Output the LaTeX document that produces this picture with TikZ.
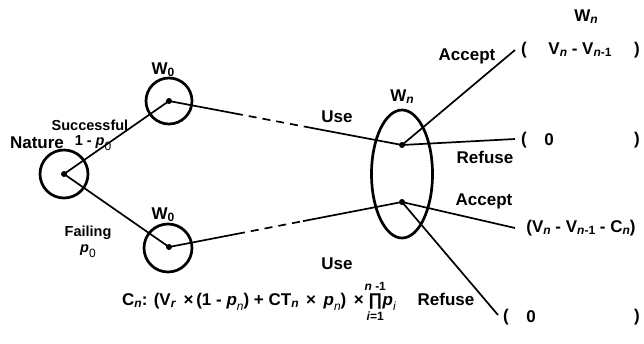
\documentclass[tikz,border=0pt]{standalone}
\usepackage{fontspec}
\setmainfont{Liberation Sans}
\usetikzlibrary{calc,shapes.geometric}
\newcommand{\lsub}[1]{\raisebox{-0.12em}{\fontsize{12}{12}\selectfont #1}}
\newcommand{\psub}[1]{\raisebox{-0.3em}{\fontsize{12}{12}\selectfont\mdseries #1}}
\begin{document}
\begin{tikzpicture}[x=1pt,y=-1pt,
  font=\bfseries\fontsize{17}{19}\selectfont,
  ring/.style={circle,draw,line width=2.7pt,inner sep=0pt,minimum size=#1},
  dotnode/.style={circle,fill,inner sep=0pt,minimum size=6pt},
  edge/.style={line width=1.7pt},
  dashedge/.style={line width=1.7pt,dash pattern=on 8pt off 6pt},
  small/.style={font=\bfseries\fontsize{14.5}{16}\selectfont, inner sep=0pt},
  lbl/.style={inner sep=0pt},
]
\useasboundingbox (0,0) rectangle (644,343);

% circles
\node[ring=48pt] (natc) at (64,174) {};
\node[ring=46pt] (u0c) at (169,101) {};
\node[ring=48pt] (l0c) at (168,248) {};
\node[ellipse,draw,line width=2.7pt,minimum width=61pt,minimum height=128pt,inner sep=0pt] (E) at (402,174) {};

% dots
\node[dotnode] (nd) at (64,174) {};
\node[dotnode] (ud) at (169,101) {};
\node[dotnode] (ld) at (169,247) {};
\node[dotnode] (e1) at (402,145) {};
\node[dotnode] (e2) at (402,202) {};

% end points
\coordinate (a1) at (515,50);
\coordinate (r1) at (515,139);
\coordinate (a2) at (515,228);
\coordinate (r2) at (498,315);

% dashed breaks
\coordinate (ua) at ($(ud.center)!0.283!(e1.center)$);
\coordinate (ub) at ($(ud.center)!0.592!(e1.center)$);
\coordinate (la) at ($(ld.center)!0.292!(e2.center)$);
\coordinate (lb) at ($(ld.center)!0.575!(e2.center)$);

% connectors
\draw[edge] (nd.center) -- (ud.center);
\draw[edge] (nd.center) -- (ld.center);
\draw[edge] (ud.center) -- (ua);
\draw[dashedge] (ua) -- (ub);
\draw[edge] (ub) -- (e1.center);
\draw[edge] (ld.center) -- (la);
\draw[dashedge] (la) -- (lb);
\draw[edge] (lb) -- (e2.center);
\draw[edge] (e1.center) -- (a1);
\draw[edge] (e1.center) -- (r1);
\draw[edge] (e2.center) -- (a2);
\draw[edge] (e2.center) -- (r2);

% labels
\node[lbl] (natl) at (37,143) {Nature};
\node[lbl] (u0l) at (163,70) {W\lsub{0}};
\node[lbl] (l0l) at (163,215) {W\lsub{0}};
\node[small] (succ) at (90,125) {Successful};
\node[small] (succp) at (93,143) {1 - \textit{p}\psub{0}};
\node[small] (fail) at (88,233) {Failing};
\node[small] (failp) at (88,251) {\textit{p}\psub{0}};
\node[lbl] (use1) at (337,117) {Use};
\node[lbl] (use2) at (337,264) {Use};
\node[lbl] (wnl) at (402,97) {W\lsub{\textit{n}}};
\node[lbl] (acc1) at (467,56) {Accept};
\node[lbl] (ref1) at (485,157) {Refuse};
\node[lbl] (acc2) at (484,201) {Accept};
\node[lbl] (ref2) at (446,299) {Refuse};

% outcomes
\node[lbl] (wntop) at (586,17) {W\lsub{\textit{n}}};
\node[lbl] (o1l) at (524,50) {(};
\node[lbl] (o1) at (580,50) {V\lsub{\textit{n}} - V\lsub{\textit{n}-1}};
\node[lbl] (o1r) at (637,50) {)};
\node[lbl] (o2l) at (524,140) {(};
\node[lbl] (o2) at (549,140) {0};
\node[lbl] (o2r) at (637,140) {)};
\node[lbl] (o3) at (581,228) {(V\lsub{\textit{n}} - V\lsub{\textit{n}-1} - C\lsub{\textit{n}})};
\node[lbl] (o4l) at (506,317) {(};
\node[lbl] (o4) at (531,317) {0};
\node[lbl] (o4r) at (637,317) {)};

% formula
\node[lbl,anchor=base west] (form) at (122,305) {C\lsub{\textit{n}}: (V\lsub{\textit{r}} \,×\,(1 - \textit{p}\psub{\textit{n}}) + CT\lsub{\textit{n}} \,×\, \textit{p}\psub{\textit{n}}) \,× };
\node[lbl,anchor=base west] (prod) at ([xshift=4pt]form.base east) {∏};
\node[lbl,anchor=base west] (pi) at (prod.base east) {\textit{p}\psub{\textit{i}}};
\node[lbl,font=\bfseries\fontsize{12}{12}\selectfont] (pup) at ($(prod.north)+(0,-7)$) {\textit{n} -1};
\node[lbl,font=\bfseries\fontsize{12}{12}\selectfont] (pdn) at ($(prod.south)+(0,7)$) {\textit{i}=1};
\end{tikzpicture}
\end{document}
